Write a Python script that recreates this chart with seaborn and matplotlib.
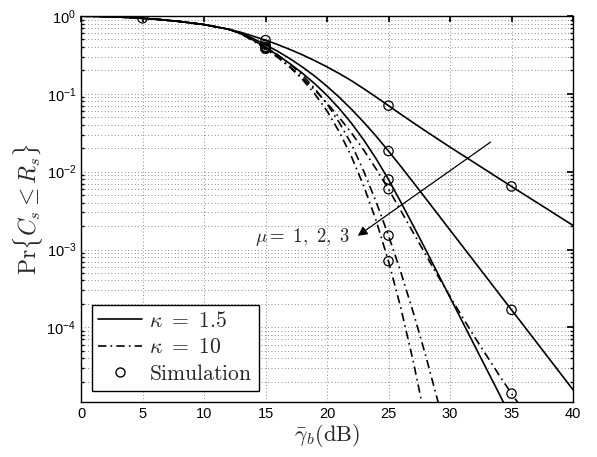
import numpy as np
import pandas as pd
import matplotlib
matplotlib.use("Agg")
import matplotlib.pyplot as plt
from matplotlib.lines import Line2D
from matplotlib.font_manager import FontProperties
import seaborn as sns

# average SNR (dB) and Pr{Cs <= Rs}
snr_common = [0, 2, 4, 6, 8, 10, 12]
p_common = [0.995, 0.986, 0.955, 0.912, 0.851, 0.776, 0.676]

snr_mid = [13, 14, 15, 16, 17, 18, 19, 20, 21, 22, 23, 24, 25, 26, 27, 28, 29, 30]
snr_tail = [32, 34, 35, 36, 38, 40]

# kappa = 1.5
p_k15_mu1 = [0.617, 0.550, 0.490, 0.429, 0.371, 0.317, 0.267, 0.222, 0.182, 0.147,
             0.116, 0.0908, 0.0705, 0.0547, 0.0427, 0.0334, 0.0263, 0.0207,
             0.0130, 0.00815, 0.00646, 0.00513, 0.00324, 0.00204]
p_k15_mu2 = [0.603, 0.513, 0.427, 0.351, 0.282, 0.221, 0.169, 0.125, 0.0902, 0.0631,
             0.0430, 0.0285, 0.0184, 0.0117, 0.00735, 0.00458, 0.00286, 0.00178,
             6.93e-4, 2.69e-4, 1.68e-4, 1.05e-4, 4.07e-5, 1.58e-5]
p_k15_mu3 = [0.589, 0.490, 0.394, 0.313, 0.243, 0.184, 0.135, 0.0955, 0.0646, 0.0417,
             0.0254, 0.0146, 0.00794, 0.00407, 0.00204, 1.01e-3, 4.95e-4, 2.43e-4,
             5.82e-5, 1.40e-5, 6.8e-6]

# kappa = 10
p_k10_mu1 = [0.589, 0.479, 0.380, 0.295, 0.221, 0.160, 0.112, 0.0759, 0.0495, 0.0313,
             0.0188, 0.0108, 0.00596, 0.00316, 0.00166, 8.71e-4, 4.62e-4, 2.48e-4,
             7.5e-5, 2.43e-5, 1.41e-5, 8.4e-6]
p_k10_mu2 = [0.603, 0.501, 0.403, 0.316, 0.240, 0.174, 0.117, 0.0741, 0.0427, 0.0224,
             0.0100, 0.00407, 0.00151, 5.13e-4, 1.58e-4, 4.47e-5, 1.15e-5, 2.7e-6]
p_k10_mu3 = [0.603, 0.490, 0.380, 0.295, 0.219, 0.153, 0.100, 0.0603, 0.0324, 0.0155,
             0.00646, 0.00234, 7.08e-4, 1.78e-4, 3.72e-5, 6.5e-6]

curves = [("1.5", 1, p_k15_mu1), ("1.5", 2, p_k15_mu2), ("1.5", 3, p_k15_mu3),
          ("10", 1, p_k10_mu1), ("10", 2, p_k10_mu2), ("10", 3, p_k10_mu3)]
sim_snr = [5, 15, 25, 35]

frames = []
for kappa, mu, p in curves:
    snr = snr_common + (snr_mid + snr_tail)[:len(p)]
    frames.append(pd.DataFrame({"snr": snr, "p": p_common + p, "kappa": kappa, "mu": mu}))
df = pd.concat(frames, ignore_index=True)

sim = df[df["snr"].isin(sim_snr)].copy()
# circle at 5 dB sits on the common part
sim5 = pd.DataFrame({"snr": [5], "p": [0.933]})
sim = pd.concat([sim[["snr", "p"]], sim5], ignore_index=True)
sim = sim[sim["p"] > 1.1e-5]

sns.set_theme(style="white")
plt.rcParams["font.family"] = ["Liberation Sans", "DejaVu Sans"]
plt.rcParams["mathtext.fontset"] = "custom"
plt.rcParams["mathtext.rm"] = "Liberation Sans"
plt.rcParams["mathtext.it"] = "Liberation Sans:italic"

fig = plt.figure(figsize=(5.97, 4.57), dpi=100)
ax = fig.add_axes([0.1357, 0.1204, 0.8241, 0.8446])
ax.set_yscale("log")

sns.lineplot(data=df, x="snr", y="p", style="kappa", units="mu", estimator=None,
             color="black", dashes={"1.5": "", "10": (5, 2.5, 1, 2.5)},
             linewidth=1.2, legend=False, sort=False, ax=ax)
sns.scatterplot(data=sim, x="snr", y="p", marker="o", s=45, facecolors="none",
                edgecolors="black", linewidth=0.9, legend=False, ax=ax, zorder=3)

ax.set_xlim(0, 40)
ax.set_ylim(1.1e-5, 1)
ax.set_xticks(range(0, 41, 5))
ax.set_yticks([1e-4, 1e-3, 1e-2, 1e-1, 1])
ax.grid(True, which="major", axis="both", color="0.4", linestyle=(0, (1, 3)), linewidth=0.6)
ax.grid(True, which="minor", axis="y", color="0.4", linestyle=(0, (1, 3)), linewidth=0.6)
ax.tick_params(which="both", direction="in", top=True, right=True, labelsize=10.5,
               colors="black")
ax.tick_params(which="major", length=4)
ax.tick_params(which="minor", length=2.5, left=True, right=True)
for s in ax.spines.values():
    s.set_color("black")
    s.set_linewidth(1.0)

ax.set_xlabel(r"$\bar{\gamma}_b(\mathrm{dB})$",
              fontproperties=FontProperties(size=16, math_fontfamily="cm"), labelpad=1)
ax.set_ylabel(r"$\mathrm{Pr}\{C_s \leq R_s\}$",
              fontproperties=FontProperties(size=17, math_fontfamily="cm"), labelpad=1)

ax.annotate("", xy=(22.5, 1.5e-3), xytext=(33.3, 0.024),
            arrowprops=dict(arrowstyle="-|>", color="black", lw=0.9,
                            mutation_scale=14, shrinkA=0, shrinkB=0))
ax.text(21.9, 1.45e-3, r"$\mu{=}\ 1,\ 2,\ 3$", ha="right", va="center",
        fontproperties=FontProperties(size=13.5, math_fontfamily="cm"))

handles = [Line2D([], [], color="black", lw=1.2, ls="-"),
           Line2D([], [], color="black", lw=1.2, ls=(0, (5, 2.5, 1, 2.5))),
           Line2D([], [], color="black", lw=0, marker="o", mfc="none", mec="black", ms=6.5)]
labels = [r"$\kappa\ =\ 1.5$", r"$\kappa\ =\ 10$", r"$\mathrm{Simulation}$"]
leg = ax.legend(handles, labels, loc="lower left",
                prop=FontProperties(size=15.5, math_fontfamily="cm"),
                fancybox=False, frameon=True, edgecolor="black", framealpha=1,
                borderaxespad=0.5, handlelength=2.05, handletextpad=0.3, labelspacing=0.25,
                borderpad=0.3)
leg.get_frame().set_linewidth(1.0)

fig.savefig("out.png", dpi=100)
